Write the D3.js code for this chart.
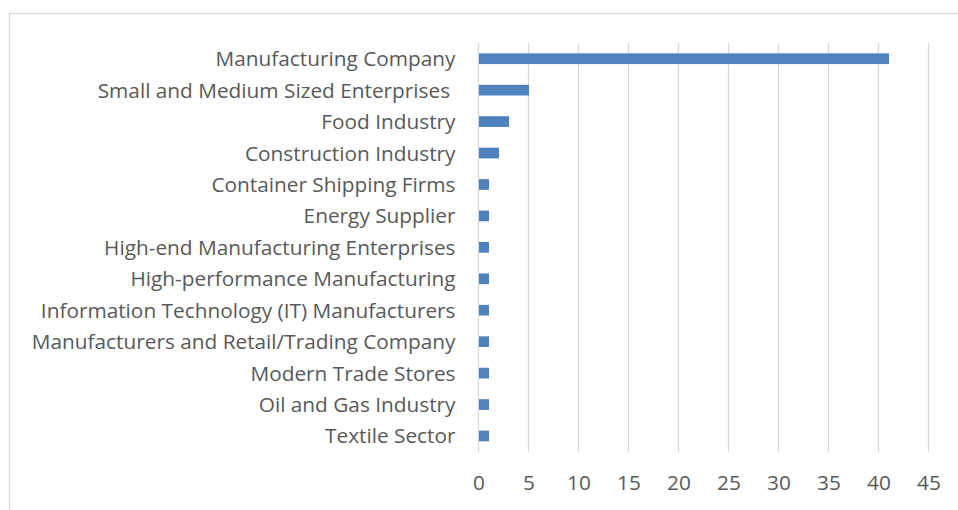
<!DOCTYPE html>
<html>
<head>
<meta charset="utf-8">
<script src="https://cdn.jsdelivr.net/npm/d3@7"></script>
<style>
  html, body { margin: 0; padding: 0; background: #fff; }
  svg { display: block; }
  text { font-family: "Open Sans", sans-serif; fill: #595959; font-variant-ligatures: none; }
</style>
</head>
<body>
<svg id="chart" width="958" height="510"></svg>
<script>
// Sectors studied, in display order (top to bottom)
const categories = [
  "Manufacturing Company",
  "Small and Medium Sized Enterprises ",
  "Food Industry",
  "Construction Industry",
  "Container Shipping Firms",
  "Energy Supplier",
  "High-end Manufacturing Enterprises",
  "High-performance Manufacturing",
  "Information Technology (IT) Manufacturers",
  "Manufacturers and Retail/Trading Company",
  "Modern Trade Stores",
  "Oil and Gas Industry",
  "Textile Sector"
];
// Number of studies per sector
const counts = [41, 5, 3, 2, 1, 1, 1, 1, 1, 1, 1, 1, 1];
// Value axis ticks
const xTicks = [0, 5, 10, 15, 20, 25, 30, 35, 40, 45];

const W = 958, H = 510;
const plot = { left: 478.5, right: 928.5, top: 43, bottom: 451.7 };
const FONT = "'Open Sans', sans-serif";
const FSIZE = "20.8px";

const svg = d3.select("#chart");

// chart area frame
svg.append("rect")
  .attr("x", 9.5).attr("y", 13.5)
  .attr("width", W + 20).attr("height", H + 20)
  .attr("fill", "none").attr("stroke", "#d9d9d9").attr("stroke-width", 1.3);

const x = d3.scaleLinear().domain([0, 45]).range([plot.left, plot.right]);
const y = d3.scaleBand().domain(categories)
  .range([plot.top, plot.bottom])
  .paddingInner(0.66).paddingOuter(0.33);

// vertical gridlines
svg.append("g").selectAll("line").data(xTicks).join("line")
  .attr("x1", d => x(d)).attr("x2", d => x(d))
  .attr("y1", plot.top).attr("y2", plot.bottom)
  .attr("stroke", "#d9d9d9").attr("stroke-width", 1.3);

// bars
svg.append("g").selectAll("rect").data(categories).join("rect")
  .attr("x", x(0) + 0.5)
  .attr("y", d => y(d))
  .attr("width", (d, i) => x(counts[i]) - x(0))
  .attr("height", y.bandwidth())
  .attr("fill", "#4f81bd");

// category labels
const yAxis = d3.axisLeft(y).tickSize(0).tickPadding(0);
const gy = svg.append("g").attr("transform", `translate(${plot.left - 23},0)`).call(yAxis);
gy.select(".domain").remove();
gy.selectAll("text")
  .style("font-family", FONT)
  .attr("fill", "#595959")
  .style("font-size", FSIZE)
  .style("white-space", "pre")
  .attr("x", 0)
  .attr("dy", "0.36em")
  .text(d => d);

// value axis labels
const xAxis = d3.axisBottom(x).tickValues(xTicks).tickSize(0).tickPadding(0);
const gx = svg.append("g").attr("transform", `translate(0,${plot.bottom})`).call(xAxis);
gx.select(".domain").remove();
gx.selectAll("text")
  .style("font-family", FONT)
  .attr("fill", "#595959")
  .style("font-size", FSIZE)
  .attr("y", 31)
  .attr("dy", "0.36em");
</script>
</body>
</html>
